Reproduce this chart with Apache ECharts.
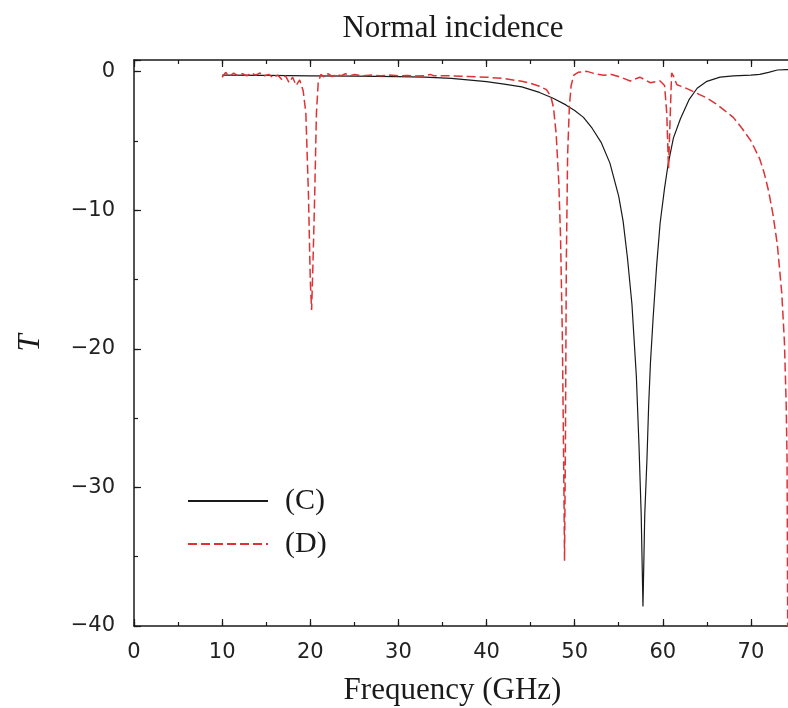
<!DOCTYPE html>
<html><head><meta charset="utf-8">
<script src="https://cdn.jsdelivr.net/npm/echarts@6/dist/echarts.min.js"></script>
<style>html,body{margin:0;padding:0;background:#fff}#c{width:788px;height:708px}</style>
</head><body><div id="c"></div>
<script>
// Series (C): solid black
const freqC = [10,15,20,25,30,33,36,40,42,44,46,47.5,49,50,51,52,53,54,55,55.5,56,56.5,57,57.3,57.55,57.75,57.95,58.2,58.4,58.6,58.9,59.3,59.7,60.2,60.6,61.2,62,63,63.9,65,66.5,68,70,71,72,73,74,75];
const valC = [-0.25,-0.27,-0.3,-0.32,-0.36,-0.4,-0.48,-0.72,-0.9,-1.1,-1.5,-1.9,-2.4,-2.8,-3.3,-4.1,-5.1,-6.6,-9.0,-10.8,-13.5,-16.8,-22,-27,-32,-38.6,-32,-28,-24,-21,-17.8,-14,-10.9,-8.4,-6.7,-4.8,-3.4,-2,-1.2,-0.7,-0.4,-0.3,-0.25,-0.2,-0.05,0.12,0.15,0.1];
// Series (D): red dashed
const freqD = [10,10.4,10.8,11.3,11.8,12.3,12.8,13.3,13.8,14.3,14.8,15.3,15.8,16.3,16.8,17.2,17.6,18,18.4,18.8,19.2,19.5,19.8,20.0,20.15,20.3,20.5,20.7,20.9,21.2,21.6,22,22.5,23,23.5,24,24.5,25,26,27,28,29,30,31,32,33,33.6,34,36,38,40,42,44,45,46,46.8,47.3,47.6,47.9,48.2,48.4,48.6,48.75,48.85,48.95,49.05,49.2,49.4,49.6,49.9,50.4,51.4,52.3,53.3,54.2,55.2,56.3,57.4,58.6,59.7,60.2,60.45,60.65,60.85,61,61.2,61.6,62.3,63,64,65,66,67,68,69,70,71,71.5,72,72.5,73,73.5,73.8,74,74.1,74.2];
const valD = [-0.4,-0.05,-0.35,-0.1,-0.3,-0.15,-0.3,-0.1,-0.25,-0.1,-0.3,-0.2,-0.45,-0.25,-0.6,-0.3,-0.8,-0.4,-1.0,-0.6,-1.4,-3,-9,-15,-17.2,-14,-9,-3,-0.8,-0.2,-0.4,-0.15,-0.35,-0.2,-0.3,-0.15,-0.3,-0.2,-0.3,-0.25,-0.3,-0.25,-0.3,-0.28,-0.32,-0.3,-0.2,-0.3,-0.3,-0.35,-0.4,-0.5,-0.7,-0.84,-1.05,-1.3,-1.8,-2.6,-4.5,-8,-12,-19,-28,-35.3,-27,-14,-6,-2.5,-1,-0.26,-0.05,0.02,-0.15,-0.26,-0.2,-0.4,-0.67,-0.4,-0.8,-0.67,-1.0,-3,-7,-3,-0.1,-0.3,-0.95,-1.1,-1.3,-1.6,-1.9,-2.3,-2.8,-3.3,-4.1,-5.0,-6.3,-7.3,-8.6,-10.3,-12.5,-16,-19.5,-24,-28,-45];
const seriesNames = ['(C)', '(D)'];
const xTicks = [0,10,20,30,40,50,60,70];
const yTicks = [-40,-30,-20,-10,0];

const dataC = freqC.map((f, i) => [f, valC[i]]);
const dataD = freqD.map((f, i) => [f, valD[i]]);

const serif = '"Liberation Serif","DejaVu Serif",serif';
const sans = '"DejaVu Sans","Liberation Sans",Arial,sans-serif';
const ink = '#1a1a1a';
const red = '#de3234';

const chart = echarts.init(document.getElementById('c'), null, {renderer: 'canvas'});

function xAx(pos, interval, major, extra) {
  return Object.assign({
    type: 'value', min: 0, max: 75, interval: interval, position: pos,
    axisLine: {show: major, onZero: false, lineStyle: {color: ink, width: 1.5}},
    axisTick: {show: true, inside: true, length: major ? 7 : 4, lineStyle: {color: ink, width: 1.2}},
    axisLabel: {show: false},
    splitLine: {show: false}
  }, extra || {});
}
function yAx(pos, interval, major, extra) {
  return Object.assign({
    type: 'value', min: -40, max: 0.84, interval: interval, position: pos,
    axisLine: {show: major, onZero: false, lineStyle: {color: ink, width: 1.5}},
    axisTick: {show: true, inside: true, length: major ? 7 : 4, lineStyle: {color: ink, width: 1.2}},
    axisLabel: {show: false},
    splitLine: {show: false}
  }, extra || {});
}

const option = {
  animation: false,
  backgroundColor: '#ffffff',
  title: {
    text: 'Normal incidence', left: 448, top: 8, textAlign: 'center',
    textStyle: {fontFamily: serif, fontSize: 31, fontWeight: 'normal', color: ink}
  },
  legend: {
    orient: 'vertical', left: 182, top: 481,
    itemWidth: 80, itemHeight: 14, itemGap: 13,
    data: seriesNames,
    itemStyle: {color: 'rgba(0,0,0,0)', borderWidth: 0, opacity: 0},
    textStyle: {fontFamily: serif, fontSize: 30, color: ink, padding: [0, 0, 0, 12]}
  },
  grid: {left: 134, top: 60, width: 661, height: 566, containLabel: false, outerBoundsMode: 'none'},
  xAxis: [
    xAx('bottom', 10, true, {
      axisLabel: {show: true, margin: 16, fontFamily: sans, fontSize: 21, color: '#222',
        formatter: v => xTicks.indexOf(v) >= 0 ? String(v) : ''},
      name: 'Frequency (GHz)', nameLocation: 'middle', nameGap: 49,
      nameTextStyle: {fontFamily: serif, fontSize: 31, color: ink, padding: [0, 24, 0, 0]}
    }),
    xAx('bottom', 5, false),
    xAx('top', 10, true),
    xAx('top', 5, false)
  ],
  yAxis: [
    yAx('left', 10, true, {
      axisLabel: {show: true, margin: 19, fontFamily: sans, fontSize: 21, color: '#222',
        formatter: v => yTicks.indexOf(v) >= 0 ? (v < 0 ? '\u2212' + Math.abs(v) : String(v)) : ''},
      name: 'T', nameLocation: 'middle', nameGap: 88, nameRotate: 90,
      nameTextStyle: {fontFamily: serif, fontStyle: 'italic', fontSize: 31, color: ink}
    }),
    yAx('left', 5, false)
  ],
  series: [
    {name: seriesNames[0], type: 'line', data: dataC, symbol: 'none', showSymbol: false,
     lineStyle: {color: ink, width: 1.2}, itemStyle: {color: ink}, clip: true},
    {name: seriesNames[1], type: 'line', data: dataD, symbol: 'none', showSymbol: false,
     lineStyle: {color: red, width: 1.5, type: [9, 4]}, itemStyle: {color: red}, clip: true}
  ]
};
chart.setOption(option);
</script>
</body></html>
